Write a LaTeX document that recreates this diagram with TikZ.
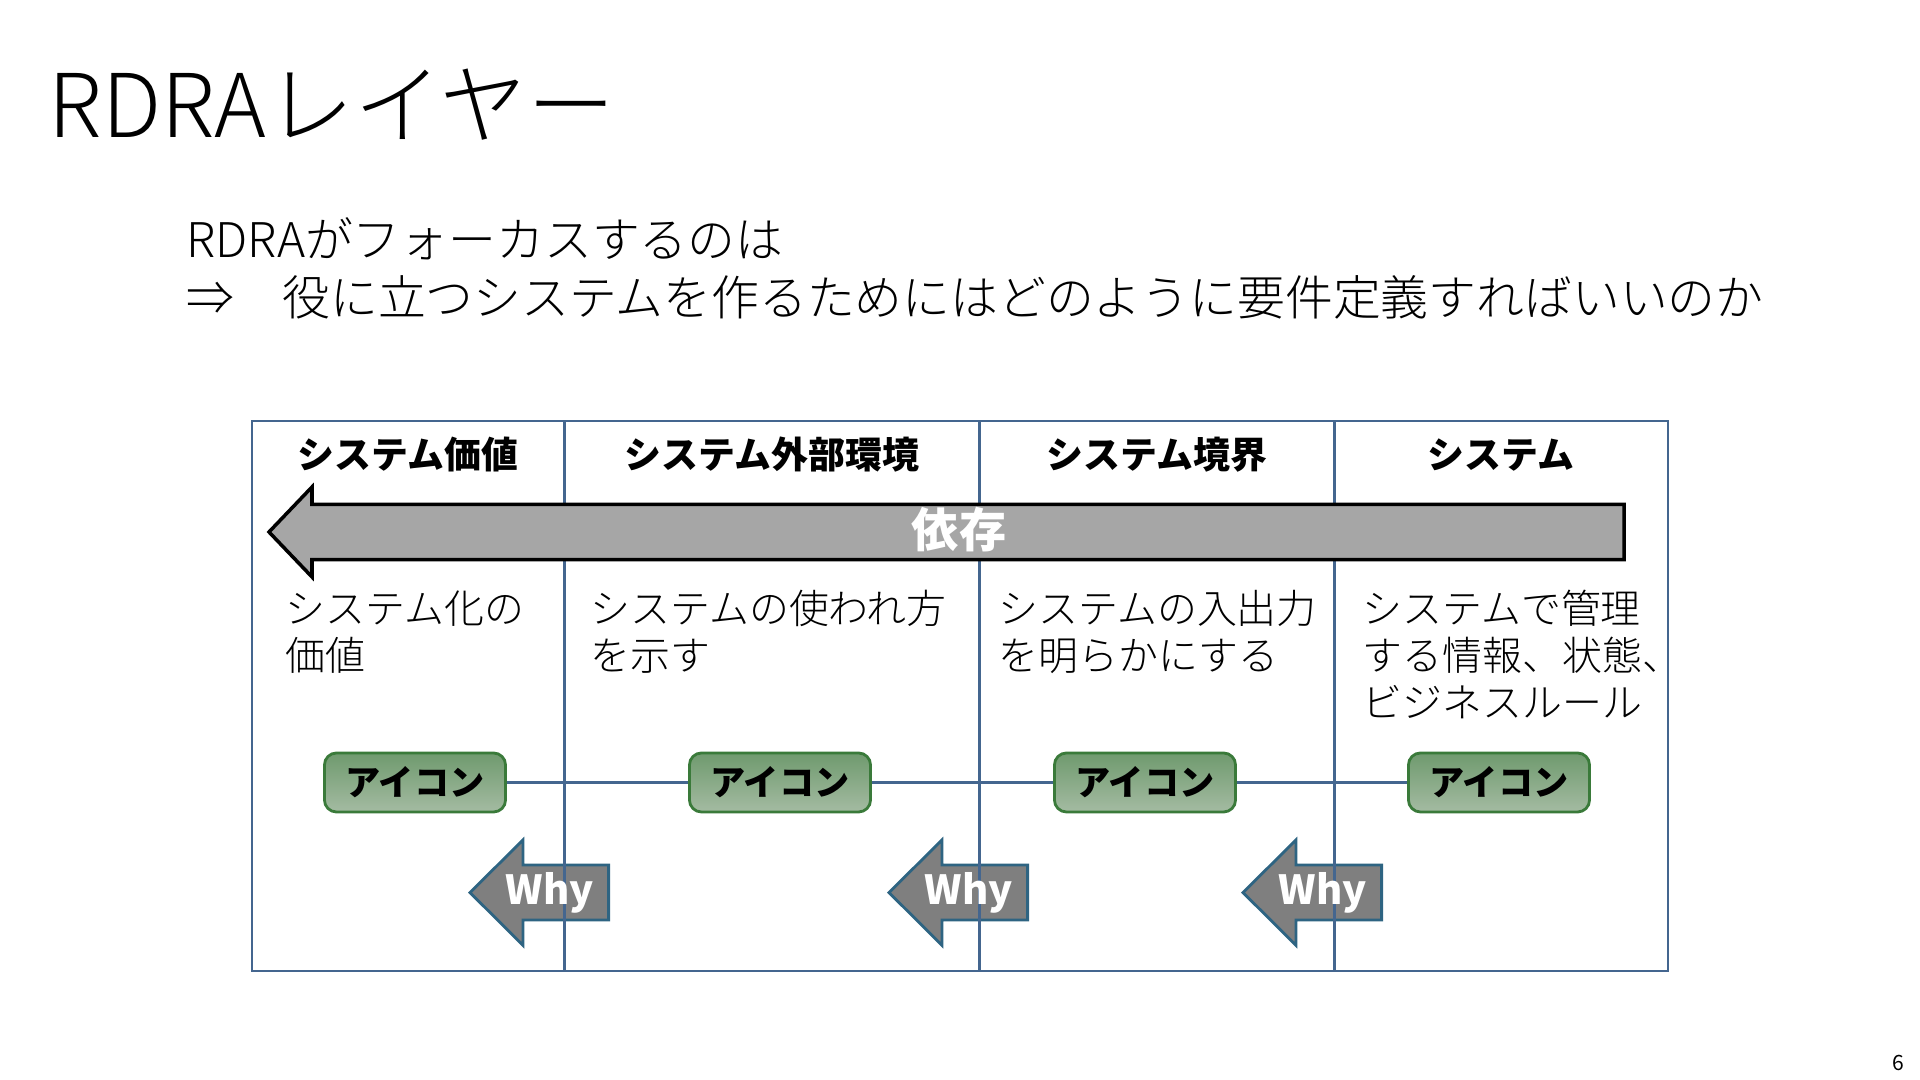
\documentclass[tikz,border=0pt]{standalone}
\usepackage{fontspec}
\setmainfont{Noto Sans CJK JP}
\IfFontExistsTF{Noto Sans CJK JP Black}{\newfontfamily\heavyfont{Noto Sans CJK JP Black}}{\newcommand\heavyfont{\bfseries}}
\IfFontExistsTF{Noto Sans CJK JP Light}{\newfontfamily\lightfont{Noto Sans CJK JP Light}}{\newcommand\lightfont{}}
\definecolor{frameblue}{HTML}{44668F}
\definecolor{arrowgray}{HTML}{A6A6A6}
\definecolor{whygray}{HTML}{7F7F7F}
\definecolor{whyblue}{HTML}{2E6482}
\definecolor{icongreen}{HTML}{3A7A3A}
\definecolor{icontop}{HTML}{6F9A6E}
\definecolor{iconbot}{HTML}{A4BBA2}
\begin{document}
\begin{tikzpicture}[x=0.01cm,y=-0.01cm,
    frame/.style={draw=frameblue,line width=0.8pt},
    head/.style={anchor=base,inner sep=0pt,font=\heavyfont\fontsize{10.5}{12}\selectfont},
    desc/.style={anchor=base west,inner sep=0pt,align=left,font=\lightfont\fontsize{11.35}{13.4}\selectfont},
    icon/.style={draw=icongreen,line width=0.8pt,rounded corners=1.2mm,top color=icontop,bottom color=iconbot,
        minimum width=1.81cm,minimum height=0.59cm,inner sep=0pt,font=\heavyfont\fontsize{10}{12}\selectfont},
    whyshape/.style={draw=whyblue,fill=whygray,line width=0.8pt},
    whytext/.style={text=white,inner sep=0pt,font=\bfseries\fontsize{11.4}{13}\selectfont}]
    \useasboundingbox (0,0) rectangle (1920,1080);
    \fill[white] (0,0) rectangle (1920,1080);
    \node[anchor=base west,inner sep=0pt,font=\lightfont\fontsize{25}{30}\selectfont] (title) at (48,138) {RDRAレイヤー};
    \node[anchor=base west,inner sep=0pt,font=\lightfont\fontsize{13.6}{16.5}\selectfont] (sub1) at (186,258) {RDRAがフォーカスするのは};
    \node[anchor=base west,inner sep=0pt,font=\lightfont\fontsize{13.6}{16.5}\selectfont] (sub2) at (186,316) {⇒　役に立つシステムを作るためにはどのように要件定義すればいいのか};
    \foreach \t in {470,889,1243}
        \draw[whyshape] (\t,892.6) -- ++(53,-52.7) -- ++(0,25.2) -- ++(85.6,0) -- ++(0,55) -- ++(-85.6,0) -- ++(0,25.2) -- cycle;
    \draw[frame] (252,421) rectangle (1668,971);
    \foreach \x in {564.5,979.6,1334.7}
        \draw[frame] (\x,421) -- (\x,971);
    \foreach \t [count=\i] in {470,889,1243}
        \node[whytext] (why\i) at ({\t+80},892.6) {Why};
    \draw[fill=arrowgray,line width=1pt] (269,532) -- (312,487) -- (312,504.5) -- (1624,504.5) -- (1624,559.6) -- (312,559.6) -- (312,577) -- cycle;
    \node[text=white,inner sep=0pt,font=\bfseries\fontsize{13.4}{16}\selectfont] (dep) at (959,530) {依存};
    \node[head] (h1) at (408,469) {システム価値};
    \node[head] (h2) at (772,469) {システム外部環境};
    \node[head] (h3) at (1157,469) {システム境界};
    \node[head] (h4) at (1501,469) {システム};
    \node[desc] (d1) at (285,671) {システム化の\\価値};
    \node[desc] (d2) at (590,671) {システムの使われ方\\を示す};
    \node[desc] (d3) at (998,671) {システムの入出力\\を明らかにする};
    \node[desc] (d4) at (1362,718) {システムで管理\\する情報、状態、\\ビジネスルール};
    \node[icon] (icon1) at (415,782.5) {アイコン};
    \node[icon] (icon2) at (780,782.5) {アイコン};
    \node[icon] (icon3) at (1145,782.5) {アイコン};
    \node[icon] (icon4) at (1499,782.5) {アイコン};
    \draw[frame] (icon1) -- (icon2) -- (icon3) -- (icon4);
    \node[font=\fontsize{6}{7}\selectfont] (page) at (1898,1063) {6};
\end{tikzpicture}
\end{document}
